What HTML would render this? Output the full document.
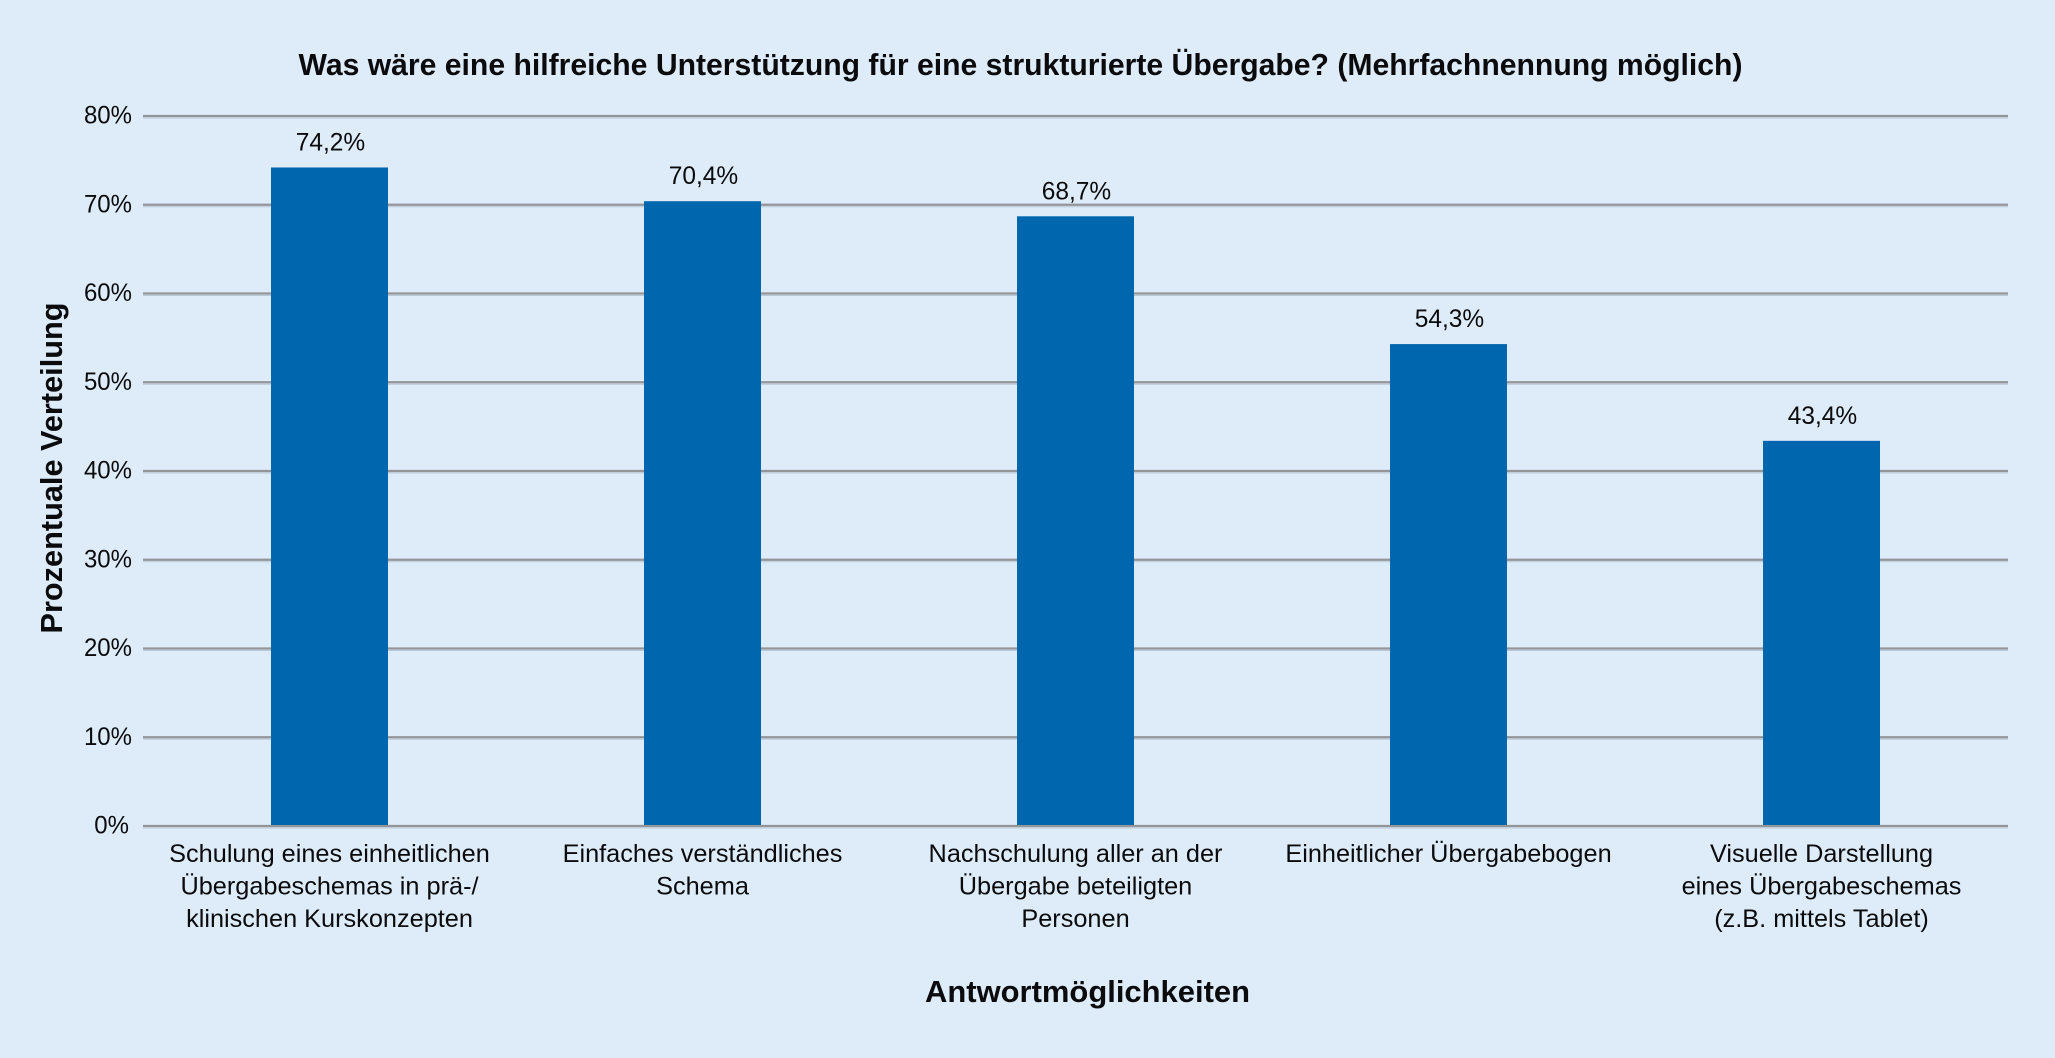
<!DOCTYPE html>
<html lang="de">
<head>
<meta charset="utf-8">
<title>Hilfreiche Unterstützung für eine strukturierte Übergabe</title>
<style>
html,body{margin:0;padding:0;background:#deecf9;}
svg{display:block;}
text{font-family:"Liberation Sans",Arial,sans-serif;fill:#0b0b0d;}
</style>
</head>
<body>
<svg id="chart" xmlns="http://www.w3.org/2000/svg" width="2055" height="1058" viewBox="0 0 2055 1058">
  <rect x="0" y="0" width="2055" height="1058" fill="#deecf9"/>
  <text id="title" x="1020.5" y="75" text-anchor="middle" font-size="31" font-weight="700" textLength="1444" lengthAdjust="spacingAndGlyphs">Was wäre eine hilfreiche Unterstützung für eine strukturierte Übergabe? (Mehrfachnennung möglich)</text>
  <g id="grid"></g>
  <g id="bars"></g>
  <g id="yticks"></g>
  <g id="xticks"></g>
  <g id="vals"></g>
  <text transform="translate(62,468) rotate(-90)" text-anchor="middle" font-size="31" font-weight="700" textLength="331" lengthAdjust="spacingAndGlyphs">Prozentuale Verteilung</text>
  <text x="1087.5" y="1002" text-anchor="middle" font-size="31" font-weight="700" textLength="325" lengthAdjust="spacingAndGlyphs">Antwortmöglichkeiten</text>
</svg>
<script>
const categories = [
  ["Schulung eines einheitlichen", "Übergabeschemas in prä-/", "klinischen Kurskonzepten"],
  ["Einfaches verständliches", "Schema"],
  ["Nachschulung aller an der", "Übergabe beteiligten", "Personen"],
  ["Einheitlicher Übergabebogen"],
  ["Visuelle Darstellung", "eines Übergabeschemas", "(z.B. mittels Tablet)"]
];
const values = [74.2, 70.4, 68.7, 54.3, 43.4];
const tickValues = [0, 10, 20, 30, 40, 50, 60, 70, 80];

const NS = "http://www.w3.org/2000/svg";
const plot = { left: 143, right: 2008, top: 116, bottom: 826 };
const yMax = 80;
const barShare = 117 / 373;

function yScale(v) {
  return plot.bottom - (v / yMax) * (plot.bottom - plot.top);
}
function bandWidth() {
  return (plot.right - plot.left) / categories.length;
}
function xCenter(i) {
  return plot.left + bandWidth() * (i + 0.5);
}
function formatValue(v) {
  return v.toFixed(1).replace(".", ",") + "%";
}
function svgEl(tag, attrs, parent) {
  const el = document.createElementNS(NS, tag);
  for (const k in attrs) el.setAttribute(k, attrs[k]);
  parent.appendChild(el);
  return el;
}
function condense(el, factor) {
  el.setAttribute("textLength", el.getComputedTextLength() * factor);
  el.setAttribute("lengthAdjust", "spacingAndGlyphs");
}

const gridG = document.getElementById("grid");
const yG = document.getElementById("yticks");
tickValues.forEach(function (t) {
  const y = yScale(t);
  const shadow = svgEl("line", { x1: plot.left, x2: plot.right, y1: y + 2, y2: y + 2, stroke: "#b9c8d8", "stroke-width": 1 }, gridG);
  
  
  const line = svgEl("line", { x1: plot.left, x2: plot.right, y1: y, y2: y, stroke: "#939598", "stroke-width": 2.2 }, gridG);
  
  
  const label = svgEl("text", { x: t === 0 ? 129 : 132, y: y + 7.5, "text-anchor": "end", "font-size": 25 }, yG);
  
  
  label.textContent = t + "%";
  condense(label, 0.96);
});

const barsG = document.getElementById("bars");
const xG = document.getElementById("xticks");
const valsG = document.getElementById("vals");
values.forEach(function (v, i) {
  const w = bandWidth() * barShare;
  const top = yScale(v);
  const bar = svgEl("rect", { x: xCenter(i) - w / 2, y: top, width: w, height: plot.bottom - 1 - top, fill: "#0066ae" }, barsG);
  
  
  const val = svgEl("text", { x: xCenter(i) + 1, y: top - 17, "text-anchor": "middle", "font-size": 25 }, valsG);
  
  
  val.textContent = formatValue(v);
  condense(val, 0.98);
  categories[i].forEach(function (lineText, j) {
    const lbl = svgEl("text", { x: xCenter(i), y: 862 + j * 32.5, "text-anchor": "middle", "font-size": 25.3 }, xG);
    
    
    lbl.textContent = lineText;
  });
});
</script>
</body>
</html>
